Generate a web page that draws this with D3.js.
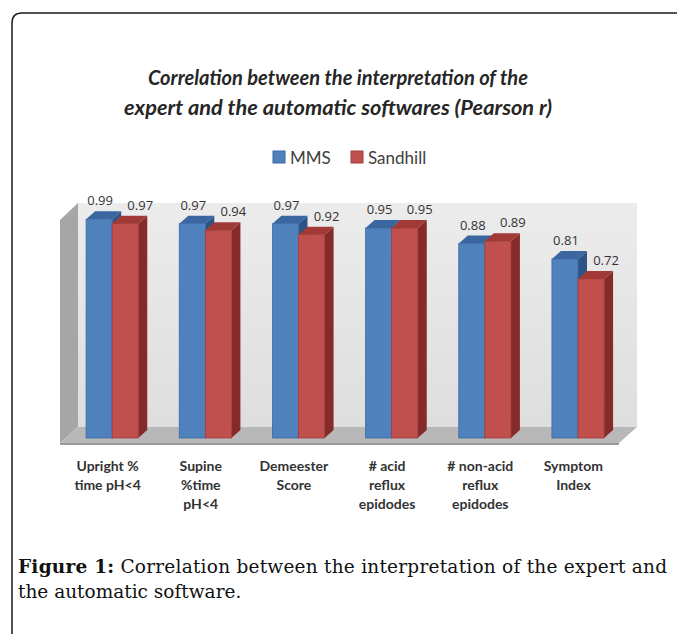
<!DOCTYPE html>
<html>
<head>
<meta charset="utf-8">
<script src="https://cdn.jsdelivr.net/npm/d3@7"></script>
<style>
  body { margin: 0; background: #fff; }
</style>
</head>
<body>
<div id="chart"></div>
<script>
var categories = ["Upright %|time pH<4", "Supine|%time|pH<4", "Demeester|Score",
  "# acid|reflux|epidodes", "# non-acid|reflux|epidodes", "Symptom|Index"];
var seriesNames = ["MMS", "Sandhill"];
var mms = [0.99, 0.97, 0.97, 0.95, 0.88, 0.81];
var sandhill = [0.97, 0.94, 0.92, 0.95, 0.89, 0.72];
var titleLines = ["Correlation between the interpretation of the",
  "expert and the automatic softwares (Pearson r)"];

(function() {
  var width = 677,
    height = 634;

  var svg = d3.select("#chart")
    .append("svg")
    .attr("width", width)
    .attr("height", height);

  // figure frame (rounded top-left corner)
  svg.append("path")
    .attr("d", "M12,634 L12,23 Q12,13 22,13 L677,13")
    .attr("fill", "none")
    .attr("stroke", "#1a1a1a")
    .attr("stroke-width", 1.5);

  // title
  svg.selectAll(".title")
    .data(titleLines)
    .enter().append("text")
    .attr("class", "title")
    .attr("x", 338)
    .attr("y", function(d, i) { return 85 + i * 30; })
    .attr("text-anchor", "middle")
    .attr("textLength", function(d, i) { return i == 0 ? 380 : 428; })
    .attr("lengthAdjust", "spacingAndGlyphs")
    .style("font-family", "Lato, sans-serif")
    .style("font-style", "italic")
    .style("font-weight", "bold")
    .style("font-size", "20px")
    .style("fill", "#262626")
    .text(function(d) { return d; });

  var colors = {
    MMS: { front: "#4f81bd", top: "#3a679f", side: "#2d5485", edge: "#3b6aa5" },
    Sandhill: { front: "#c0504d", top: "#a13a37", side: "#852c2a", edge: "#a03e3b" }
  };

  // legend
  var legend = svg.append("g").attr("transform", "translate(273,151)");
  var legX = [0, 78];
  seriesNames.forEach(function(s, i) {
    legend.append("rect")
      .attr("x", legX[i]).attr("y", 0)
      .attr("width", 12).attr("height", 12)
      .attr("fill", colors[s].front)
      .attr("stroke", colors[s].edge);
    legend.append("text")
      .attr("x", legX[i] + 17).attr("y", 12.5)
      .style("font-family", "Lato, sans-serif")
      .style("font-size", "17px")
      .style("fill", "#404040")
      .text(s);
  });

  // 3d frame
  var left = 60, right = 619, floorY = 443;
  var dX = 18, dY = -16;
  var y = d3.scaleLinear().domain([0, 1]).range([438, 217]);

  var x0 = d3.scaleBand().domain(categories).range([left, right]);
  var bw = x0.bandwidth();
  var x1 = d3.scaleBand().domain(seriesNames).range([bw * 0.28, bw * 0.84]);

  var grad = svg.append("defs").append("linearGradient")
    .attr("id", "wall").attr("x1", 0).attr("y1", 0).attr("x2", 0).attr("y2", 1);
  grad.append("stop").attr("offset", "0%").attr("stop-color", "#ececec");
  grad.append("stop").attr("offset", "100%").attr("stop-color", "#dedede");

  // back wall
  svg.append("rect")
    .attr("x", left + dX).attr("y", 203)
    .attr("width", right - left).attr("height", floorY + dY - 203)
    .attr("fill", "url(#wall)");

  // left wall
  svg.append("polygon")
    .attr("points", [[left, 220], [left + dX, 203], [left + dX, floorY + dY], [left, floorY]].join(" "))
    .attr("fill", "#a6a6a6");

  // floor
  svg.append("polygon")
    .attr("points", [[left, floorY], [left + dX, floorY + dY], [right + dX, floorY + dY], [right, floorY]].join(" "))
    .attr("fill", "#b8b8b8");
  svg.append("rect")
    .attr("x", left).attr("y", floorY)
    .attr("width", right - left).attr("height", 2)
    .attr("fill", "#9a9a9a");

  // bars
  var bDx = 9, bDy = -8;
  var data = [];
  categories.forEach(function(c, i) {
    data.push({ cat: c, s: "MMS", v: mms[i] });
    data.push({ cat: c, s: "Sandhill", v: sandhill[i] });
  });

  var bar = svg.selectAll(".bar")
    .data(data)
    .enter().append("g")
    .attr("class", "bar");

  bar.each(function(d) {
    var g = d3.select(this);
    var x = x0(d.cat) + x1(d.s), w = x1.bandwidth();
    var top = y(d.v), base = y(0);
    var c = colors[d.s];
    g.append("polygon")
      .attr("points", [[x + w, top], [x + w + bDx, top + bDy], [x + w + bDx, base + bDy], [x + w, base]].join(" "))
      .attr("fill", c.side);
    g.append("polygon")
      .attr("points", [[x, top], [x + bDx, top + bDy], [x + w + bDx, top + bDy], [x + w, top]].join(" "))
      .attr("fill", c.top);
    g.append("rect")
      .attr("x", x).attr("y", top)
      .attr("width", w).attr("height", base - top)
      .attr("fill", c.front)
      .attr("stroke", c.edge)
      .attr("stroke-width", 0.8);
  });

  // value labels
  var labelDx = { MMS: 1, Sandhill: 15 };
  svg.selectAll(".val")
    .data(data)
    .enter().append("text")
    .attr("class", "val")
    .attr("x", function(d) { return x0(d.cat) + x1(d.s) + x1.bandwidth() / 2 + labelDx[d.s]; })
    .attr("y", function(d) { return y(d.v) - 14; })
    .attr("text-anchor", "middle")
    .style("font-family", "'Open Sans', sans-serif")
    .style("font-size", "13px")
    .style("fill", "#333")
    .text(function(d) { return d3.format(".2f")(d.v); });

  // category labels
  svg.selectAll(".cat")
    .data(categories)
    .enter().append("text")
    .attr("class", "cat")
    .attr("x", function(d) { return x0(d) + bw / 2 + 1; })
    .attr("y", 471)
    .attr("text-anchor", "middle")
    .style("font-family", "Lato, sans-serif")
    .style("font-weight", "bold")
    .style("font-size", "14px")
    .style("fill", "#333")
    .selectAll("tspan")
    .data(function(d) { return d.split("|"); })
    .enter().append("tspan")
    .attr("x", function() { var p = d3.select(this.parentNode).datum(); return x0(p) + bw / 2 + 1; })
    .attr("dy", function(d, i) { return i == 0 ? 0 : 19; })
    .text(function(d) { return d; });

  // caption
  var cap = svg.append("text")
    .attr("x", 18).attr("y", 573)
    .attr("textLength", 649)
    .attr("lengthAdjust", "spacing")
    .style("font-family", "'DejaVu Serif', serif")
    .style("font-size", "18.5px")
    .style("fill", "#111");
  cap.append("tspan").style("font-weight", "bold").text("Figure 1:");
  cap.append("tspan").text(" Correlation between the interpretation of the expert and");
  svg.append("text")
    .attr("x", 18).attr("y", 598)
    .style("font-family", "'DejaVu Serif', serif")
    .style("font-size", "18.5px")
    .style("fill", "#111")
    .text("the automatic software.");
})();
</script>
</body>
</html>
